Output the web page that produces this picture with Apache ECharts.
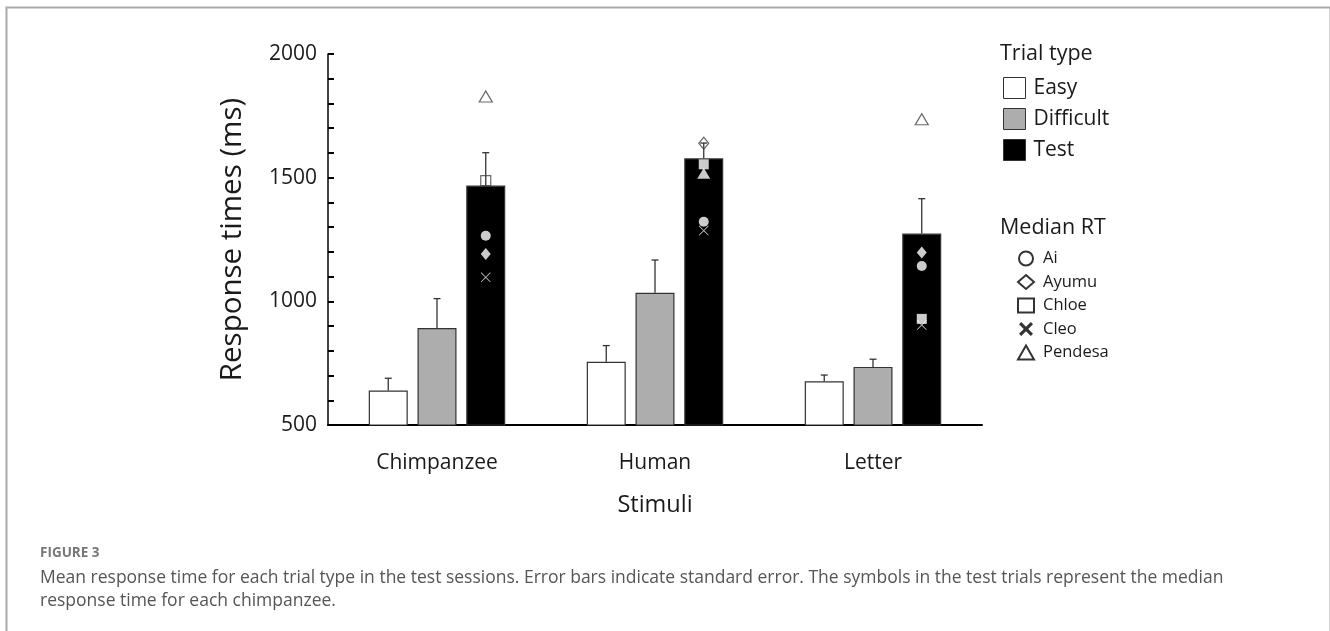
<!DOCTYPE html>
<html>
<head>
<meta charset="utf-8">
<script src="https://cdn.jsdelivr.net/npm/echarts@6/dist/echarts.min.js"></script>
<style>
html,body{margin:0;padding:0;background:#fff;}
#chart{width:1330px;height:631px;}
</style>
</head>
<body>
<div id="chart"></div>
<script>
// ---- data ----
const categories = ['Chimpanzee', 'Human', 'Letter'];
const trialTypes = ['Easy', 'Difficult', 'Test'];
const easyMean = [639, 756, 677];
const easySE = [50, 65, 25];
const difficultMean = [892, 1035, 735];
const difficultSE = [119, 132, 31];
const testMean = [1468, 1578, 1274];
const testSE = [133, 62, 141];
const chimpNames = ['Ai', 'Ayumu', 'Chloe', 'Cleo', 'Pendesa'];
const aiRT = [1265, 1322, 1143];
const ayumuRT = [1191, 1639, 1197];
const chloeRT = [1488, 1554, 929];
const cleoRT = [1097, 1286, 904];
const pendesaRT = [1828, 1518, 1736];
const yTicks = [500, 1000, 1500, 2000];
const yMinorStep = 100;

// ---- styles ----
const FONT = 'Open Sans';
const BAR_W = 39;
const BAR_GAP_RATIO = 0.25;
const STEP = BAR_W * (1 + BAR_GAP_RATIO);
const barFills = ['#ffffff', '#adadad', '#000000'];
const CROSS_THIN = 'path://M0,0.6 L0.6,0 L5,4.4 L9.4,0 L10,0.6 L5.6,5 L10,9.4 L9.4,10 L5,5.6 L0.6,10 L0,9.4 L4.4,5 Z';
const CROSS_THICK = 'path://M0,1.6 L1.6,0 L5,3.4 L8.4,0 L10,1.6 L6.6,5 L10,8.4 L8.4,10 L5,6.6 L1.6,10 L0,8.4 L3.4,5 Z';
const chimpSymbols = {
  Ai: {sym: 'circle', size: [10, 10]},
  Ayumu: {sym: 'diamond', size: [10, 12]},
  Chloe: {sym: 'rect', size: [10, 10]},
  Cleo: {sym: CROSS_THIN, size: [10, 10]},
  Pendesa: {sym: 'triangle', size: [13, 11]}
};
const legendIcons = {
  Ai: 'circle', Ayumu: 'diamond', Chloe: 'rect', Cleo: CROSS_THICK, Pendesa: 'triangle'
};
const chimpValues = {Ai: aiRT, Ayumu: ayumuRT, Chloe: chloeRT, Cleo: cleoRT, Pendesa: pendesaRT};

const means = [easyMean, difficultMean, testMean];
const ses = [easySE, difficultSE, testSE];

const chart = echarts.init(document.getElementById('chart'), null, {renderer: 'canvas'});

const barSeries = trialTypes.map((t, k) => ({
  name: t,
  type: 'bar',
  barWidth: BAR_W,
  barGap: (BAR_GAP_RATIO * 100) + '%',
  data: means[k],
  itemStyle: {color: barFills[k], borderColor: '#333', borderWidth: 1.2},
  z: 2,
  silent: true
}));

const errSeries = trialTypes.map((t, k) => ({
  name: t + ' SE',
  type: 'custom',
  z: 3,
  silent: true,
  data: categories.map((c, i) => [i, means[k][i], ses[k][i]]),
  renderItem: function (params, api) {
    const off = (k - 1) * STEP;
    const p0 = api.coord([api.value(0), api.value(1)]);
    const p1 = api.coord([api.value(0), api.value(1) + api.value(2)]);
    const x = p0[0] + off;
    const style = {stroke: '#333', lineWidth: 1.3};
    return {
      type: 'group',
      children: [
        {type: 'line', shape: {x1: x, y1: p0[1], x2: x, y2: p1[1]}, style: style},
        {type: 'line', shape: {x1: x - 3.5, y1: p1[1], x2: x + 3.5, y2: p1[1]}, style: style}
      ]
    };
  }
}));

const scatterOrder = ['Cleo', 'Ai', 'Ayumu', 'Chloe', 'Pendesa'];
const scatterSeries = scatterOrder.map((name, j) => ({
  name: name,
  type: 'scatter',
  symbol: chimpSymbols[name].sym,
  symbolSize: chimpSymbols[name].size,
  symbolOffset: [STEP, 0],
  z: 4 + j,
  silent: true,
  itemStyle: {color: '#fff', borderColor: '#000', borderWidth: 1.5},
  data: chimpValues[name].map((v, i) => {
    const inside = v < testMean[i];
    const isCross = name === 'Cleo';
    return {
      value: [i, v],
      itemStyle: inside
        ? {color: isCross ? '#e8e8e8' : '#ffffff', borderWidth: 0}
        : (isCross ? {color: '#444', borderWidth: 0}
                   : {color: 'rgba(255,255,255,0)', borderColor: '#444', borderWidth: 1.2})
    };
  })
}));

const option = {
  animation: false,
  backgroundColor: '#fff',
  textStyle: {fontFamily: FONT},
  grid: {left: 328, right: 348, top: 54, bottom: 206, containLabel: false},
  xAxis: {
    type: 'category',
    data: categories,
    axisTick: {show: false},
    axisLine: {lineStyle: {color: '#000', width: 2}},
    axisLabel: {fontFamily: FONT, fontSize: 21, color: '#1a1a1a', margin: 28},
    name: 'Stimuli',
    nameLocation: 'middle',
    nameGap: 68,
    nameTextStyle: {fontFamily: FONT, fontSize: 23.5, color: '#1a1a1a'}
  },
  yAxis: {
    type: 'value',
    min: yTicks[0],
    max: yTicks[yTicks.length - 1],
    interval: yMinorStep,
    splitLine: {show: false},
    axisLine: {show: true, lineStyle: {color: '#000', width: 1.5}},
    axisTick: {show: true, inside: true, length: 6, lineStyle: {color: '#000', width: 2}},
    axisLabel: {fontFamily: FONT, fontSize: 21, color: '#1a1a1a', margin: 11,
                formatter: function (v) { return yTicks.indexOf(v) >= 0 ? String(v) : ''; }},
    name: 'Response times (ms)',
    nameLocation: 'middle',
    nameRotate: 90,
    nameGap: 80,
    nameTextStyle: {fontFamily: FONT, fontSize: 29.5, color: '#1a1a1a'}
  },
  legend: [
    {
      orient: 'vertical',
      left: 998,
      top: 72,
      itemWidth: 22,
      itemHeight: 21,
      itemGap: 9,
      selectedMode: false,
      textStyle: {fontFamily: FONT, fontSize: 21, color: '#1a1a1a', lineHeight: 21,
                  padding: [0, 0, 0, 3]},
      data: trialTypes.map((t, k) => ({
        name: t, icon: 'rect',
        itemStyle: {color: barFills[k], borderColor: '#333', borderWidth: 1}
      }))
    },
    {
      orient: 'vertical',
      left: 1012,
      top: 245,
      itemWidth: 16,
      itemHeight: 14,
      itemGap: 6.5,
      selectedMode: false,
      textStyle: {fontFamily: FONT, fontSize: 16.5, color: '#1a1a1a', lineHeight: 14,
                  padding: [0, 0, 0, 4]},
      data: chimpNames.map(n => ({
        name: n,
        icon: legendIcons[n],
        itemStyle: n === 'Cleo'
          ? {color: '#000', borderWidth: 0}
          : {color: 'rgba(255,255,255,0)', borderColor: '#000', borderWidth: 2}
      }))
    }
  ],
  graphic: [
    {type: 'rect', left: 4, top: 5, shape: {width: 1324, height: 700},
     style: {fill: 'none', stroke: '#aaaaaa', lineWidth: 2}, silent: true},
    {type: 'text', left: 1000, top: 43,
     style: {text: 'Trial type', fontFamily: FONT, fontSize: 21.5, fill: '#1a1a1a'}},
    {type: 'text', left: 1000, top: 217,
     style: {text: 'Median RT', fontFamily: FONT, fontSize: 21.5, fill: '#1a1a1a'}},
    {type: 'text', left: 40, top: 546,
     style: {text: 'FIGURE 3', fontFamily: FONT, fontSize: 13.5, fontWeight: 'bold', fill: '#777'}},
    {type: 'text', left: 40, top: 567,
     style: {text: 'Mean response time for each trial type in the test sessions. Error bars indicate standard error. The symbols in the test trials represent the median\nresponse time for each chimpanzee.',
             fontFamily: FONT, fontSize: 17.5, lineHeight: 23, fill: '#555'}}
  ],
  series: [].concat(barSeries, errSeries, scatterSeries)
};
chart.setOption(option);
</script>
</body>
</html>
